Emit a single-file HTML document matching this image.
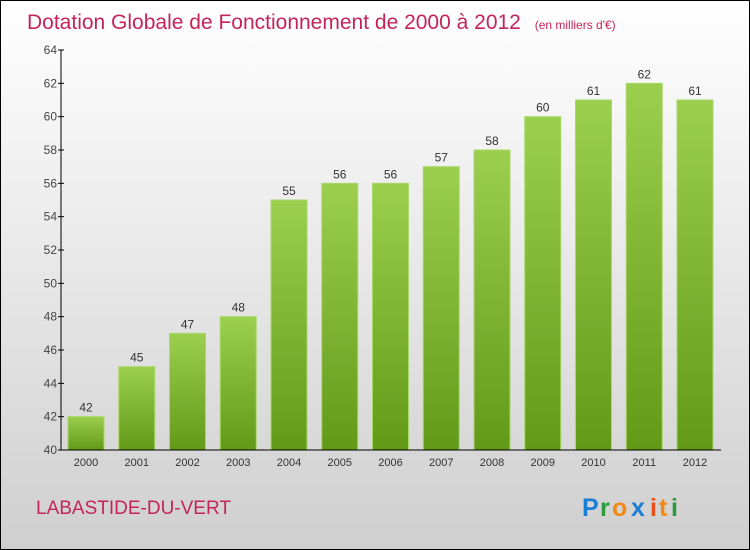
<!DOCTYPE html>
<html><head><meta charset="utf-8"><style>
body{margin:0}
svg{display:block;font-family:"Liberation Sans",sans-serif}
</style></head><body>
<svg id="c" width="750" height="550">
<defs>
<linearGradient id="bg" x1="0" y1="0" x2="0" y2="1"><stop offset="0" stop-color="#ffffff"/><stop offset="1" stop-color="#cfcfcf"/></linearGradient>
<linearGradient id="bar" x1="0" y1="0" x2="0" y2="1"><stop offset="0" stop-color="#9ccf4e"/><stop offset="1" stop-color="#629a18"/></linearGradient>
</defs>
<rect x="0.5" y="0.5" width="749" height="549" fill="url(#bg)" stroke="#000"/>
<text x="27" y="29" font-size="21" fill="#c4245a">Dotation Globale de Fonctionnement de 2000 à 2012 <tspan font-size="12" dx="8">(en milliers d'€)</tspan></text>
<text x="36" y="514" font-size="19" fill="#c4245a">LABASTIDE-DU-VERT</text>
<g font-size="25" font-weight="bold">
<text x="582" y="516" fill="#1a7fd4">P</text><text x="600" y="516" fill="#2a9a3a">r</text><text x="612" y="516" fill="#f08a12">o</text><text x="631" y="516" fill="#1a7fd4">x</text><text x="650" y="516" fill="#e8501a">i</text><text x="659" y="516" fill="#f08a12">t</text><text x="671" y="516" fill="#2a9a3a">i</text>
</g>
<g id="plot"></g>
</svg>
<script>
const years=["2000","2001","2002","2003","2004","2005","2006","2007","2008","2009","2010","2011","2012"];
const values=[42,45,47,48,55,56,56,57,58,60,61,62,61];
const yTicks=[40,42,44,46,48,50,52,54,56,58,60,62,64];
const NS="http://www.w3.org/2000/svg";
const g=document.getElementById('plot');
const y=v=>450-(v-40)*(400/24);
const x=i=>86+i*50.75;
function mk(t,a){const e=document.createElementNS(NS,t);for(const k in a)e.setAttribute(k,a[k]);g.appendChild(e);return e;}
values.forEach((v,i)=>{
 const r=mk('rect',{x:x(i)-18,y:y(v),width:36,height:450-y(v),fill:'url(#bar)',stroke:'#a8d868','stroke-width':1});
 
 
 const t=mk('text',{x:x(i),y:y(v)-5,'text-anchor':'middle','font-size':12,fill:'#333'});t.textContent=v;
 
 
 const l=mk('text',{x:x(i),y:466,'text-anchor':'middle','font-size':11,fill:'#333'});l.textContent=years[i];
 
 
});
yTicks.forEach(v=>{
 mk('line',{x1:58,x2:64,y1:y(v),y2:y(v),stroke:'#000'});
 const t=mk('text',{x:57,y:y(v)+4,'text-anchor':'end','font-size':12,fill:'#444'});t.textContent=v;
 
 
});
const ya=mk('line',{x1:61,x2:61,y1:y(64),y2:450,stroke:'#000'});


const xa=mk('line',{x1:61,x2:721,y1:450,y2:450,stroke:'#000'});


</script>
</body></html>
